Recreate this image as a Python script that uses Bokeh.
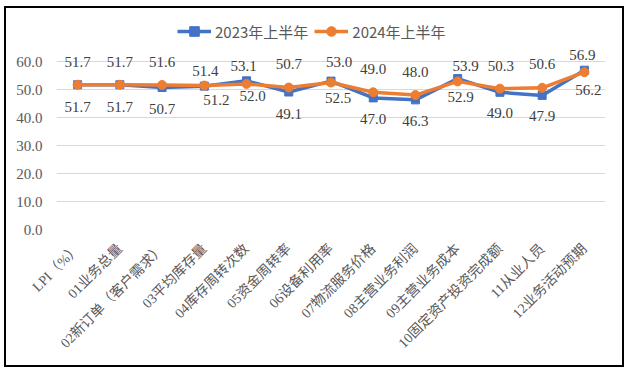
import math
from bokeh.plotting import figure
from bokeh.models import (ColumnDataSource, FixedTicker, Range1d, Legend,
                          LegendItem, PrintfTickFormatter)
from bokeh.core.properties import value
from bokeh.embed import file_html
from bokeh.resources import INLINE

# ---------------- data ----------------
categories = ["LPI（%）", "01业务总量", "02新订单（客户需求）", "03平均库存量",
              "04库存周转次数", "05资金周转率", "06设备利用率", "07物流服务价格",
              "08主营业务利润", "09主营业务成本", "10固定资产投资完成额",
              "11从业人员", "12业务活动预期"]
h1_2023 = [51.7, 51.7, 50.7, 51.2, 53.1, 49.1, 53.0, 47.0, 46.3, 53.9, 49.0, 47.9, 56.9]
h1_2024 = [51.7, 51.7, 51.6, 51.4, 52.0, 50.7, 52.5, 49.0, 48.0, 52.9, 50.3, 50.6, 56.2]
y_ticks = [0, 10, 20, 30, 40, 50, 60]

# ---------------- label placement (style, screen px) ----------------
upper_dx = [0, 0, 0, 1, -3, 0, 8, 0, 0, 8, 1, 0, -2]
upper_dy = [-23, -23, -23, -15, -15, -24, -19, -23, -23, -13, -23, -24, -15]
lower_dx = [0, 0, 0, 12, 6, 0, 7, 0, 0, 3, 0, 0, 4]
lower_dy = [22, 22, 21, 14, 12, 22, 15, 21, 21, 16, 21, 21, 18]

BLUE = "#4472C4"
ORANGE = "#ED7D31"
SERIF = "Liberation Serif, Noto Sans CJK SC"

xs = list(range(len(categories)))

W, H = 616, 357
ML, MR, MT, MB = 50, 17, 6, 136
frame_h = H - MT - MB
px_per_unit = 168 / 60.0
y_end = frame_h / px_per_unit

p = figure(width=W, height=H, output_backend="svg", toolbar_location=None,
           x_range=Range1d(-0.5, len(categories) - 0.5),
           y_range=Range1d(0, y_end),
           min_border_left=ML, min_border_right=MR,
           min_border_top=MT, min_border_bottom=MB,
           background_fill_color="white", border_fill_color="white",
           styles={"margin-left": "6px", "margin-top": "8px",
                   "outline": "2px solid #000000"})
p.outline_line_color = None

# axes
p.yaxis.ticker = FixedTicker(ticks=y_ticks)
p.yaxis.formatter = PrintfTickFormatter(format="%.1f")
p.yaxis.axis_line_color = None
p.yaxis.major_tick_line_color = None
p.yaxis.minor_tick_line_color = None
p.yaxis.major_label_text_font = SERIF
p.yaxis.major_label_text_font_size = "15px"
p.yaxis.major_label_text_color = "#595959"
p.yaxis.major_label_standoff = 8

p.xaxis.ticker = FixedTicker(ticks=xs)
p.xaxis.major_label_overrides = {i: c for i, c in enumerate(categories)}
p.xaxis.major_label_orientation = math.pi / 4
p.xaxis.axis_line_color = None
p.xaxis.major_tick_line_color = None
p.xaxis.minor_tick_line_color = None
p.xaxis.major_label_text_font = SERIF
p.xaxis.major_label_text_font_size = "14px"
p.xaxis.major_label_text_color = "#595959"
p.xaxis.major_label_standoff = 11

p.xgrid.grid_line_color = None
p.ygrid.ticker = FixedTicker(ticks=y_ticks)
p.ygrid.grid_line_color = "#D9D9D9"
p.ygrid.grid_line_width = 1

src = ColumnDataSource(dict(x=xs, a=h1_2023, b=h1_2024))

l1 = p.line("x", "a", source=src, line_color=BLUE, line_width=3.5)
m1 = p.scatter("x", "a", source=src, marker="square", size=8,
               fill_color=BLUE, line_color=BLUE)
l2 = p.line("x", "b", source=src, line_color=ORANGE, line_width=3.5)
m2 = p.scatter("x", "b", source=src, marker="circle", size=9,
               fill_color=ORANGE, line_color=ORANGE)

# data labels
upper_vals = [max(a, b) for a, b in zip(h1_2023, h1_2024)]
lower_vals = [min(a, b) for a, b in zip(h1_2023, h1_2024)]
lab_src = ColumnDataSource(dict(
    x=xs + xs,
    y=upper_vals + lower_vals,
    text=["%.1f" % v for v in upper_vals + lower_vals],
    xo=upper_dx + lower_dx,
    yo=upper_dy + lower_dy,
))
p.text(x="x", y="y", text="text", x_offset="xo", y_offset="yo", source=lab_src,
       text_align="center", text_baseline="middle",
       text_font=value(SERIF), text_font_size="15px", text_color="#404040")

legend = Legend(items=[LegendItem(label="2023年上半年", renderers=[l1, m1]),
                       LegendItem(label="2024年上半年", renderers=[l2, m2])],
                orientation="horizontal", location=(121, 186),
                glyph_width=34, glyph_height=24, label_standoff=4, spacing=6,
                padding=0, margin=0, border_line_color=None,
                background_fill_alpha=0,
                label_text_font="Noto Sans CJK SC", label_text_font_size="15px",
                label_text_color="#595959")
p.add_layout(legend)

open("out.html", "w").write(file_html(p, INLINE))
